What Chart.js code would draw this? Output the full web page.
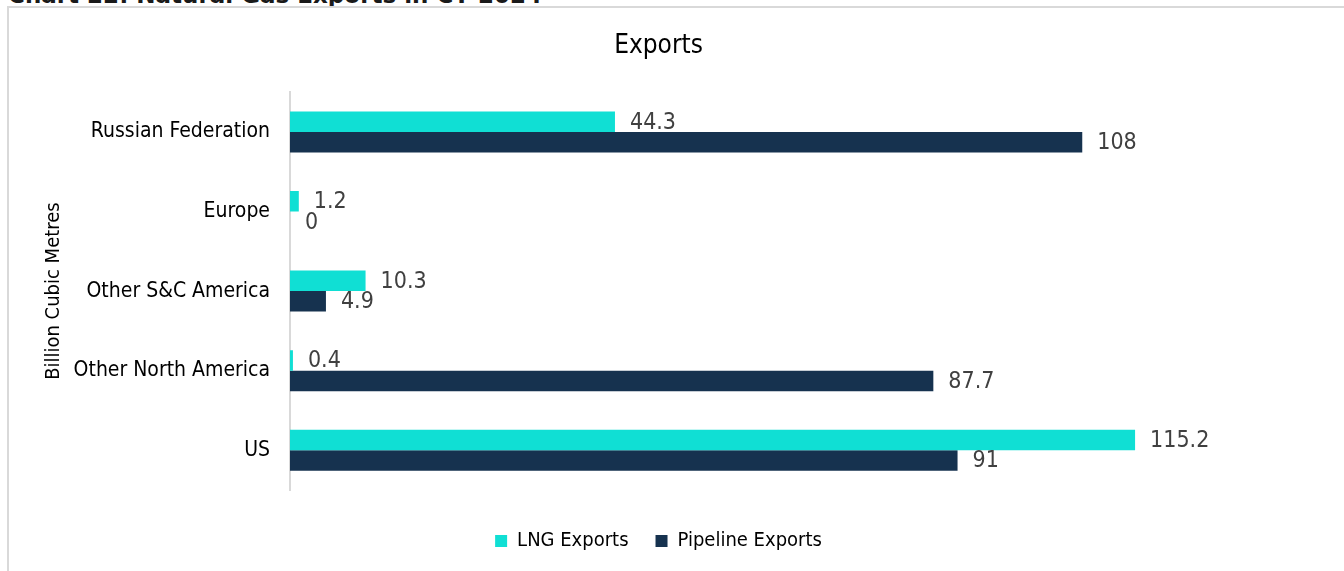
<!DOCTYPE html>
<html lang="en">
<head>
    <meta charset="UTF-8">
    <title>Natural Gas Exports</title>
    <script src="https://cdn.jsdelivr.net/npm/chart.js"></script>
    <style>
        body, html {
            margin: 0;
            padding: 0;
            width: 1344px;
            height: 571px;
            overflow: hidden;
            background: #fff;
        }
        .heading {
            position: absolute;
            left: 8px;
            top: -16px;
            font: bold 23px 'DejaVu Sans', sans-serif;
            line-height: 23px;
            color: #1a1a1a;
            white-space: nowrap;
        }
        .frame {
            position: absolute;
            left: 7px;
            top: 6px;
            width: 1400px;
            height: 600px;
            border-top: 2px solid #d9d9d9;
            border-left: 2px solid #d9d9d9;
        }
        #exportsChart {
            position: absolute;
            left: 0;
            top: 0;
        }
    </style>
</head>
<body>
    <div class="heading">Chart 22: Natural Gas Exports in CY 2024</div>
    <div class="frame"></div>
    <canvas id="exportsChart" width="1344" height="571"></canvas>
    <script>
        const regions = ['Russian Federation', 'Europe', 'Other S&C America', 'Other North America', 'US'];
        const lngExports = [44.3, 1.2, 10.3, 0.4, 115.2];
        const pipelineExports = [108, 0, 4.9, 87.7, 91];

        const FONT = "'DejaVu Sans Condensed', 'DejaVu Sans', sans-serif";
        Chart.defaults.font.family = FONT;

        // value labels just past the end of each bar
        const valueLabels = {
            id: 'valueLabels',
            afterDatasetsDraw(chart) {
                const ctx = chart.ctx;
                ctx.save();
                ctx.font = '23px ' + FONT;
                ctx.fillStyle = '#404040';
                ctx.textAlign = 'left';
                ctx.textBaseline = 'middle';
                chart.data.datasets.forEach((ds, i) => {
                    chart.getDatasetMeta(i).data.forEach((bar, j) => {
                        ctx.fillText(String(ds.data[j]), bar.x + 15, bar.y + 1);
                    });
                });
                ctx.restore();
            }
        };

        new Chart(document.getElementById('exportsChart'), {
            type: 'bar',
            data: {
                labels: regions,
                datasets: [
                    { label: 'LNG Exports', data: lngExports, backgroundColor: '#10dfd4', barPercentage: 1, categoryPercentage: 0.515 },
                    { label: 'Pipeline Exports', data: pipelineExports, backgroundColor: '#16324f', barPercentage: 1, categoryPercentage: 0.515 }
                ]
            },
            options: {
                indexAxis: 'y',
                responsive: false,
                animation: false,
                layout: { padding: { left: 0, right: 27, top: 0, bottom: 10 } },
                plugins: {
                    title: {
                        display: true,
                        text: 'Exports',
                        color: '#000',
                        font: { size: 26, weight: 'normal' },
                        padding: { top: 31, bottom: 30 }
                    },
                    legend: {
                        position: 'bottom',
                        labels: { boxWidth: 12, boxHeight: 12, padding: 27, color: '#000', font: { size: 20 } }
                    },
                    tooltip: { enabled: false }
                },
                scales: {
                    x: {
                        min: 0,
                        max: 140,
                        ticks: { display: false },
                        grid: { display: false, drawTicks: false },
                        border: { display: false },
                        afterFit(s) { s.height = 14; }
                    },
                    y: {
                        grid: { display: false, drawTicks: false },
                        border: { display: true, color: '#d9d9d9', width: 2 },
                        ticks: { color: '#000', font: { size: 21 }, padding: 20 },
                        title: {
                            display: true,
                            text: 'Billion Cubic Metres',
                            color: '#000',
                            font: { size: 20 },
                            padding: { top: 42, bottom: 0 }
                        },
                        afterFit(s) { s.width = 290; }
                    }
                }
            },
            plugins: [valueLabels]
        });
    </script>
</body>
</html>
